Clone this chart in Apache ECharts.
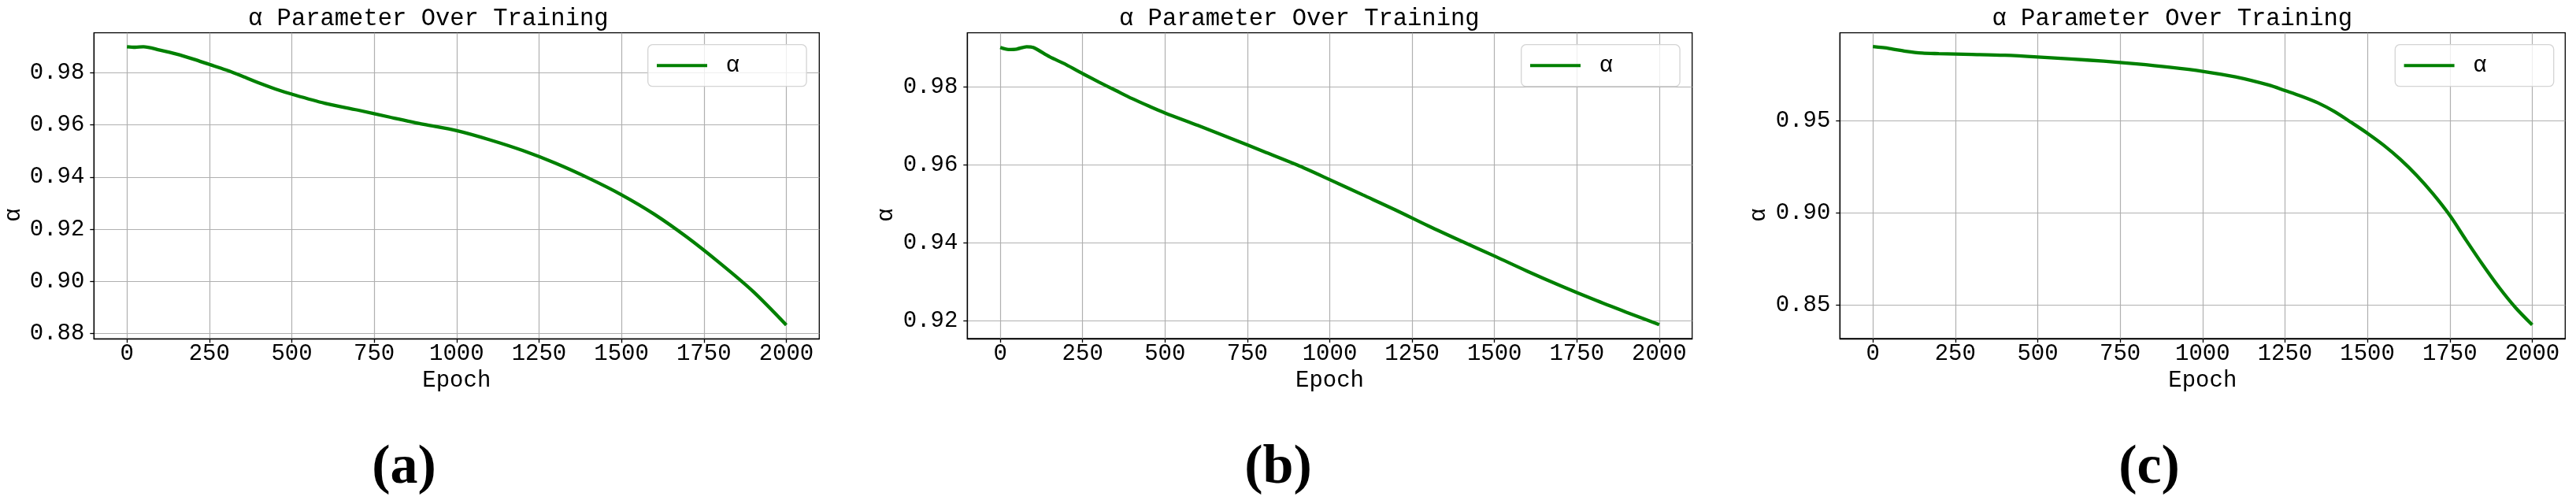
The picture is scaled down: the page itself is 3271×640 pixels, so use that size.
<!DOCTYPE html>
<html>
<head>
<meta charset="utf-8">
<script src="https://cdn.jsdelivr.net/npm/echarts@6/dist/echarts.min.js"></script>
<style>
html,body{margin:0;padding:0;background:#fff;}
#chart{width:3271px;height:640px;}
</style>
</head>
<body>
<div id="chart"></div>
<script>
// ---------- data ----------
const xTicks = [0, 250, 500, 750, 1000, 1250, 1500, 1750, 2000];

const epochsA = [0, 25, 50, 100, 150, 200, 250, 300, 350, 400, 450, 500, 600, 700, 800, 900, 1000, 1100, 1200, 1300, 1400, 1500, 1600, 1700, 1800, 1900, 2000];
const alphaA  = [0.9900, 0.9898, 0.9900, 0.9887, 0.9872, 0.9853, 0.9832, 0.9811, 0.9787, 0.9761, 0.9738, 0.9718, 0.9683, 0.9657, 0.9629, 0.9602, 0.9578, 0.9543, 0.9502, 0.9453, 0.9396, 0.9332, 0.9257, 0.9168, 0.9068, 0.8960, 0.8832];

const epochsB = [0, 25, 50, 80, 100, 150, 200, 250, 300, 350, 400, 450, 500, 600, 700, 800, 900, 1000, 1100, 1200, 1300, 1400, 1500, 1600, 1700, 1800, 1900, 2000];
const alphaB  = [0.9901, 0.9896, 0.9897, 0.9903, 0.9901, 0.9877, 0.9857, 0.9834, 0.9812, 0.9791, 0.9770, 0.9751, 0.9733, 0.9701, 0.9668, 0.9634, 0.9600, 0.9562, 0.9523, 0.9484, 0.9443, 0.9404, 0.9366, 0.9327, 0.9290, 0.9255, 0.9222, 0.9190];

const epochsC = [0, 50, 100, 150, 200, 250, 300, 400, 500, 600, 700, 800, 900, 1000, 1100, 1200, 1250, 1300, 1350, 1400, 1450, 1500, 1550, 1600, 1650, 1700, 1750, 1800, 1850, 1900, 1950, 2000];
const alphaC  = [0.9902, 0.9892, 0.9877, 0.9867, 0.9864, 0.9862, 0.9860, 0.9855, 0.9846, 0.9835, 0.9823, 0.9808, 0.9790, 0.9768, 0.9738, 0.9694, 0.9664, 0.9633, 0.9597, 0.9550, 0.9492, 0.9432, 0.9366, 0.9290, 0.9202, 0.9101, 0.8986, 0.8850, 0.8718, 0.8594, 0.8484, 0.8392];

const yTicksA = [0.88, 0.90, 0.92, 0.94, 0.96, 0.98];
const yTicksB = [0.92, 0.94, 0.96, 0.98];
const yTicksC = [0.85, 0.90, 0.95];

const seriesName = 'α';
const panelTitle = 'α Parameter Over Training';
const xName = 'Epoch';
const yName = 'α';
const captions = ['(a)', '(b)', '(c)'];

// ---------- layout ----------
const MONO = "'Liberation Mono', 'Courier New', monospace";
const panels = [
  {epochs: epochsA, vals: alphaA, yTicks: yTicksA, grid: {left: 119.3, top: 41.7, width: 921, height: 388.6}, ymin: 0.87788, ymax: 0.99533, titleLeft: 315, legendLeft: 822.7, capX: 513, yNameX: 17},
  {epochs: epochsB, vals: alphaB, yTicks: yTicksB, grid: {left: 1228.3, top: 41.7, width: 920.4, height: 388.3}, ymin: 0.91541, ymax: 0.99386, titleLeft: 1421, legendLeft: 1931.7, capX: 1623, yNameX: 1125},
  {epochs: epochsC, vals: alphaC, yTicks: yTicksC, grid: {left: 2336.3, top: 41.7, width: 921, height: 388.3}, ymin: 0.83175, ymax: 0.99769, titleLeft: 2529.5, legendLeft: 3041.3, capX: 2729, yNameX: 2233}
];

const tickStyle = {color: '#000', width: 1.3};
const gridLineStyle = {color: '#b0b0b0', width: 1.2};
const labelStyle = {fontFamily: MONO, fontSize: 29, color: '#000'};

const option = {
  animation: false,
  backgroundColor: '#fff',
  title: panels.map(p => ({
    text: panelTitle, left: p.titleLeft, top: 8, padding: 0,
    textStyle: {fontFamily: MONO, fontSize: 30.5, fontWeight: 'normal', color: '#000'}
  })),
  grid: panels.map(p => Object.assign({show: true, borderColor: '#000', borderWidth: 1.3, backgroundColor: 'transparent', containLabel: false}, p.grid)),
  legend: panels.map(p => ({
    data: [{name: seriesName, icon: 'rect'}], left: p.legendLeft, top: 56.7, orient: 'horizontal',
    padding: [12, 85, 12, 11.3], itemWidth: 64, itemHeight: 4, selectedMode: false,
    backgroundColor: 'rgba(255,255,255,0.8)', borderColor: '#d4d4d4', borderWidth: 1.3, borderRadius: 6,
    textStyle: Object.assign({padding: [0, 0, 0, 18.7]}, labelStyle)
  })),
  xAxis: panels.map((p, i) => ({
    type: 'value', gridIndex: i, min: -100, max: 2100,
    axisLine: {show: true, onZero: false, lineStyle: tickStyle},
    axisTick: {show: true, inside: false, length: 5, lineStyle: tickStyle, customValues: xTicks},
    axisLabel: Object.assign({customValues: xTicks, margin: 5, formatter: v => String(v)}, labelStyle),
    splitLine: {show: true, lineStyle: gridLineStyle},
    name: xName, nameLocation: 'middle', nameGap: 35, nameTextStyle: labelStyle
  })),
  yAxis: panels.map((p, i) => ({
    type: 'value', gridIndex: i, min: p.ymin, max: p.ymax,
    axisLine: {show: true, onZero: false, lineStyle: tickStyle},
    axisTick: {show: true, inside: false, length: 5, lineStyle: tickStyle, customValues: p.yTicks},
    axisLabel: Object.assign({customValues: p.yTicks, margin: 12, formatter: v => v.toFixed(2)}, labelStyle),
    splitLine: {show: true, lineStyle: gridLineStyle}
  })),
  series: panels.map((p, i) => ({
    type: 'line', name: seriesName, xAxisIndex: i, yAxisIndex: i,
    data: p.epochs.map((e, j) => [e, p.vals[j]]),
    symbol: 'none', smooth: 0.3, z: 5,
    lineStyle: {color: '#008000', width: 4.3},
    itemStyle: {color: '#008000'}
  })),
  graphic: panels.map((p, i) => ({
    type: 'text', x: p.capX, y: 595,
    style: {
      text: captions[i], font: 'bold 70px "Liberation Serif", "Times New Roman", serif', fill: '#000',
      align: 'center', verticalAlign: 'middle', textAlign: 'center', textVerticalAlign: 'middle'
    }
  })).concat(panels.map(p => ({
    type: 'text', x: p.yNameX, y: 273, rotation: Math.PI / 2,
    style: {
      text: yName, font: '29px ' + MONO, fill: '#000',
      align: 'center', verticalAlign: 'middle', textAlign: 'center', textVerticalAlign: 'middle'
    }
  })))
};

const chart = echarts.init(document.getElementById('chart'), null, {renderer: 'canvas'});
chart.setOption(option);
</script>
</body>
</html>
